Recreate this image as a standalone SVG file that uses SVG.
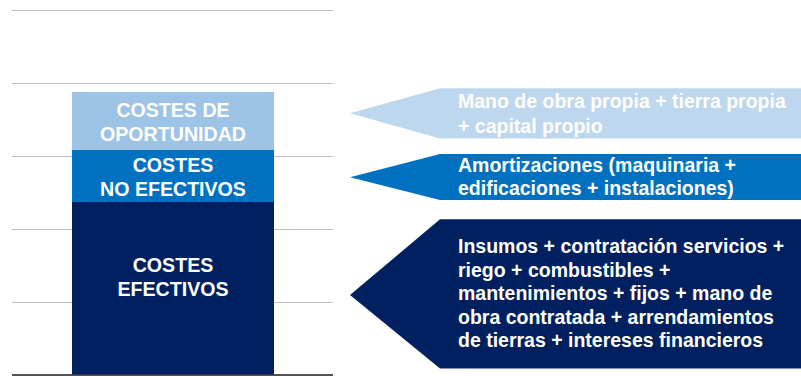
<svg xmlns="http://www.w3.org/2000/svg" width="801" height="376" viewBox="0 0 801 376">
<style>
.grid{stroke:#BFBFBF;stroke-width:1;fill:none}
.bt{font-family:"Liberation Sans",Arial,sans-serif;font-weight:bold;font-size:19.6px;fill:#FFFFFF;text-anchor:middle}
.at{font-family:"Liberation Sans",Arial,sans-serif;font-weight:bold;font-size:19.5px;fill:#FFFFFF}
</style>
<rect width="801" height="376" fill="#FFFFFF"/>
<g id="grid">
<line class="grid" x1="12" y1="10.5" x2="333" y2="10.5"/>
<line class="grid" x1="12" y1="83.5" x2="333" y2="83.5"/>
<line class="grid" x1="12" y1="156.5" x2="333" y2="156.5"/>
<line class="grid" x1="12" y1="229.5" x2="333" y2="229.5"/>
<line class="grid" x1="12" y1="302.5" x2="333" y2="302.5"/>
<line x1="12" y1="375" x2="333" y2="375" stroke="#1A1A1A" stroke-width="1.5"/>
</g>
<g id="bar-oportunidad">
<rect x="72" y="92" width="202" height="58" fill="#9DC3E6"/>
<text class="bt" x="173" y="117">COSTES DE</text>
<text class="bt" x="173" y="140.5">OPORTUNIDAD</text>
</g>
<g id="bar-noefectivos">
<rect x="72" y="150" width="202" height="52" fill="#0070C0"/>
<text class="bt" x="173" y="171.5">COSTES</text>
<text class="bt" x="173" y="195.5">NO EFECTIVOS</text>
</g>
<g id="bar-efectivos">
<rect x="72" y="202" width="202" height="172.5" fill="#002060"/>
<text class="bt" x="173" y="272.3">COSTES</text>
<text class="bt" x="173" y="295.7">EFECTIVOS</text>
</g>
<g id="arrow-oportunidad">
<polygon points="350,113.3 440,88.3 801,88.3 801,138.5 440,138.5" fill="#BDD7EE"/>
<text class="at" x="458" y="108.3">Mano de obra propia + tierra propia</text>
<text class="at" x="458" y="133.3">+ capital propio</text>
</g>
<g id="arrow-noefectivos">
<polygon points="350,177.3 440,154 801,154 801,200 440,200" fill="#0070C0"/>
<text class="at" x="458" y="171.7">Amortizaciones (maquinaria +</text>
<text class="at" x="458" y="194.5">edificaciones + instalaciones)</text>
</g>
<g id="arrow-efectivos">
<polygon points="350,295 440,219.3 801,219.3 801,368.5 440,368.5" fill="#002060"/>
<text class="at" x="458" y="253.3">Insumos + contratación servicios +</text>
<text class="at" x="458" y="276.5">riego + combustibles +</text>
<text class="at" x="458" y="300">mantenimientos + fijos + mano de</text>
<text class="at" x="458" y="323.7">obra contratada + arrendamientos</text>
<text class="at" x="458" y="347.3">de tierras + intereses financieros</text>
</g>
</svg>
